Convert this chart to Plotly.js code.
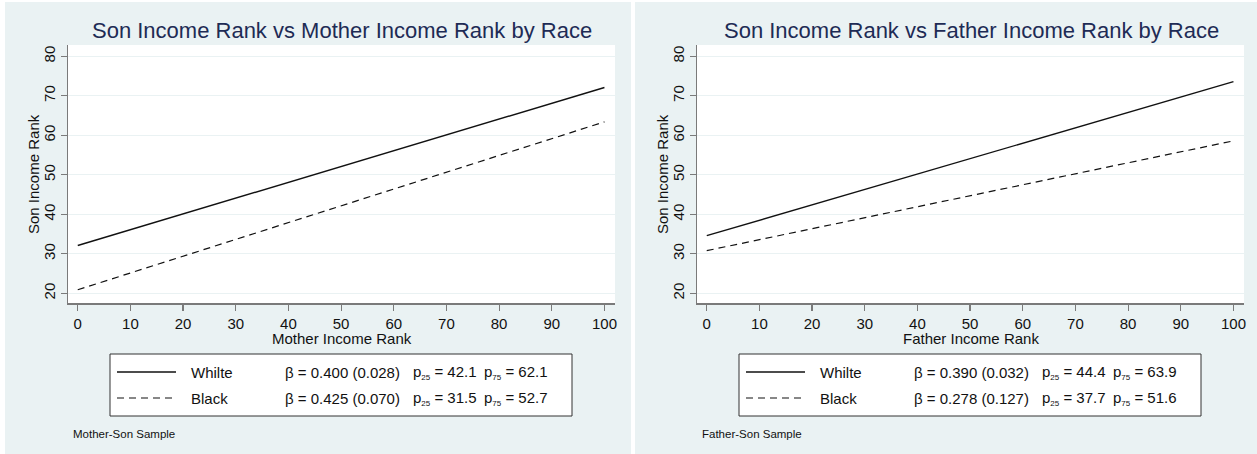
<!DOCTYPE html>
<html>
<head>
<meta charset="utf-8">
<script src="https://cdn.plot.ly/plotly-3.0.1.min.js"></script>
<style>html,body{margin:0;padding:0;background:#fff;}#chart{width:1257px;height:454px;}</style>
</head>
<body>
<div id="chart"></div>
<script>
// ---- data ----
const xEnds = [0, 100];
const motherWhite = [32.1, 72.1];
const motherBlack = [20.9, 63.4];
const fatherWhite = [34.6, 73.6];
const fatherBlack = [30.8, 58.6];
const xTicks = [0, 10, 20, 30, 40, 50, 60, 70, 80, 90, 100];
const yTicks = [20, 30, 40, 50, 60, 70, 80];
const groupNames = ['Whilte', 'Black'];
const motherBeta = ['0.400', '0.425'];
const motherSE = ['0.028', '0.070'];
const motherP25 = ['42.1', '31.5'];
const motherP75 = ['62.1', '52.7'];
const fatherBeta = ['0.390', '0.278'];
const fatherSE = ['0.032', '0.127'];
const fatherP25 = ['44.4', '37.7'];
const fatherP75 = ['63.9', '51.6'];
const titles = ['Son Income Rank vs Mother Income Rank by Race', 'Son Income Rank vs Father Income Rank by Race'];
const xTitles = ['Mother Income Rank', 'Father Income Rank'];
const yTitle = 'Son Income Rank';
const notes = ['Mother-Son Sample', 'Father-Son Sample'];

// ---- layout helpers ----
const W = 1257, H = 454;
const px = v => v / W;
const py = v => 1 - v / H;
const FONT = 'Liberation Sans, Arial, Helvetica, sans-serif';
const BG = '#eaf2f3';
const OFF = 629; // right panel offset

const traces = [
  {x: xEnds, y: motherWhite, xaxis: 'x', yaxis: 'y', mode: 'lines', line: {color: '#111', width: 1.4}, name: groupNames[0]},
  {x: xEnds, y: motherBlack, xaxis: 'x', yaxis: 'y', mode: 'lines', line: {color: '#111', width: 1.2, dash: '7px,5px'}, name: groupNames[1]},
  {x: xEnds, y: fatherWhite, xaxis: 'x2', yaxis: 'y2', mode: 'lines', line: {color: '#111', width: 1.4}, name: groupNames[0]},
  {x: xEnds, y: fatherBlack, xaxis: 'x2', yaxis: 'y2', mode: 'lines', line: {color: '#111', width: 1.2, dash: '7px,5px'}, name: groupNames[1]}
];

function xax(domain) {
  return {
    domain: domain, range: [-1.85, 102.0], tickvals: xTicks, ticktext: xTicks.map(String),
    showgrid: false, zeroline: false, showline: true, linecolor: '#7a7a7a', linewidth: 1.5,
    ticks: 'outside', ticklen: 6, tickwidth: 1.2, tickcolor: '#7a7a7a',
    tickfont: {family: FONT, size: 15, color: '#111'}, fixedrange: true
  };
}
function yax(domain, anchor) {
  return {
    domain: domain, range: [17.55, 82.86], tickvals: yTicks, ticktext: yTicks.map(String), anchor: anchor,
    showgrid: true, gridcolor: BG, gridwidth: 1, zeroline: false, showline: true, linecolor: '#7a7a7a', linewidth: 1.5,
    ticks: 'outside', ticklen: 6, tickwidth: 1.2, tickcolor: '#7a7a7a', tickangle: -90,
    tickfont: {family: FONT, size: 15, color: '#111'}, fixedrange: true
  };
}

const yDom = [py(303), py(45)];
const shapes = [];
const annotations = [];

// white gaps around/between panels (paper is panel colour)
shapes.push({type: 'rect', xref: 'paper', yref: 'paper', x0: px(631), x1: px(635), y0: 0, y1: 1, fillcolor: '#fff', line: {width: 0}, layer: 'below'});
shapes.push({type: 'rect', xref: 'paper', yref: 'paper', x0: 0, x1: px(5), y0: 0, y1: 1, fillcolor: '#fff', line: {width: 0}, layer: 'below'});
shapes.push({type: 'rect', xref: 'paper', yref: 'paper', x0: 0, x1: 1, y0: py(2), y1: 1, fillcolor: '#fff', line: {width: 0}, layer: 'below'});

const panels = [
  {beta: motherBeta, se: motherSE, p25: motherP25, p75: motherP75},
  {beta: fatherBeta, se: fatherSE, p25: fatherP25, p75: fatherP75}
];
const sub = s => '<sub><span style="font-size:8px">' + s + '</span></sub>';

panels.forEach((p, i) => {
  const o = i * OFF;
  // title
  annotations.push({xref: 'paper', yref: 'paper', x: px(342 + o), y: py(31), text: titles[i], showarrow: false,
    xanchor: 'center', yanchor: 'middle', font: {family: FONT, size: 22, color: '#1e2b55'}});
  // x axis title
  annotations.push({xref: 'paper', yref: 'paper', x: px(342 + o), y: py(338), text: xTitles[i], showarrow: false,
    xanchor: 'center', yanchor: 'middle', font: {family: FONT, size: 15, color: '#111'}});
  // y axis title
  annotations.push({xref: 'paper', yref: 'paper', x: px(33 + o), y: py(174), text: yTitle, showarrow: false, textangle: -90,
    xanchor: 'center', yanchor: 'middle', font: {family: FONT, size: 15, color: '#111'}});
  // legend box
  shapes.push({type: 'rect', xref: 'paper', yref: 'paper', x0: px(110 + o), x1: px(572 + o), y0: py(416), y1: py(354),
    fillcolor: '#fff', line: {color: '#333', width: 1}});
  const rowsY = [372, 398];
  [0, 1].forEach(r => {
    shapes.push({type: 'line', xref: 'paper', yref: 'paper', x0: px(117 + o), x1: px(176 + o), y0: py(rowsY[r]), y1: py(rowsY[r]),
      line: {color: '#111', width: r === 0 ? 1.4 : 1.2, dash: r === 0 ? 'solid' : '7px,5px'}});
    annotations.push({xref: 'paper', yref: 'paper', x: px(189 + o), y: py(rowsY[r]), text: groupNames[r], showarrow: false,
      xanchor: 'left', yanchor: 'middle', font: {family: FONT, size: 15, color: '#111'}});
    annotations.push({xref: 'paper', yref: 'paper', x: px(283 + o), y: py(rowsY[r]), text: 'β = ' + p.beta[r] + ' (' + p.se[r] + ')', showarrow: false,
      xanchor: 'left', yanchor: 'middle', font: {family: FONT, size: 15, color: '#111'}});
    annotations.push({xref: 'paper', yref: 'paper', x: px(411 + o), y: py(rowsY[r]), text: 'p' + sub('25') + ' = ' + p.p25[r], showarrow: false,
      xanchor: 'left', yanchor: 'middle', font: {family: FONT, size: 15, color: '#111'}});
    annotations.push({xref: 'paper', yref: 'paper', x: px(482 + o), y: py(rowsY[r]), text: 'p' + sub('75') + ' = ' + p.p75[r], showarrow: false,
      xanchor: 'left', yanchor: 'middle', font: {family: FONT, size: 15, color: '#111'}});
  });
  // note
  annotations.push({xref: 'paper', yref: 'paper', x: px(71 + o), y: py(434), text: notes[i], showarrow: false,
    xanchor: 'left', yanchor: 'middle', font: {family: FONT, size: 11.5, color: '#111'}});
});

const layout = {
  width: W, height: H,
  margin: {l: 0, r: 0, t: 0, b: 0},
  paper_bgcolor: BG, plot_bgcolor: '#ffffff',
  showlegend: false,
  xaxis: xax([px(68), px(615)]),
  yaxis: yax(yDom, 'x'),
  xaxis2: Object.assign(xax([px(68 + OFF), px(615 + OFF)]), {anchor: 'y2'}),
  yaxis2: yax(yDom, 'x2'),
  shapes: shapes,
  annotations: annotations,
  font: {family: FONT}
};
layout.xaxis.anchor = 'y';

Plotly.newPlot('chart', traces, layout, {displayModeBar: false, staticPlot: true});
</script>
</body>
</html>
